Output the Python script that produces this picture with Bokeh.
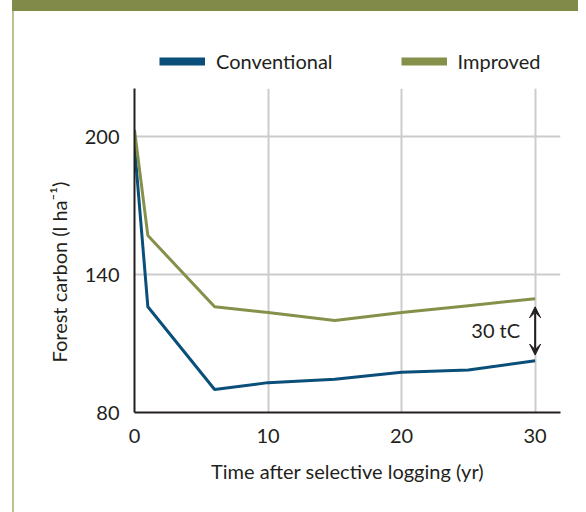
from bokeh.plotting import figure
from bokeh.models import (Div, Legend, LegendItem, Arrow, VeeHead, Label,
                          FixedTicker, ColumnDataSource)
from bokeh.layouts import column, row
from bokeh.embed import file_html
from bokeh.resources import INLINE

years = [0, 1, 6, 10, 15, 20, 25, 30]
conventional = [196, 126, 90, 93, 94.5, 97.5, 98.5, 102.5]
improved = [203, 157, 126, 123.5, 120, 123.5, 126.5, 129.5]
series_names = ["Conventional", "Improved"]
x_ticks = [0, 10, 20, 30]
y_ticks = [80, 140, 200]
gap_label = "30 tC"

BLUE = "#0a4f79"
GREEN = "#85904a"
TXT = "#231f20"
FONT = "Lato"

src = ColumnDataSource(dict(x=years, c=conventional, i=improved))

# ---- legend strip (own small figure above the chart; its frame aligns with the chart's) ----
lf = figure(width=564, height=77, x_range=(-2, -1), y_range=(0, 1),
            output_backend="svg", toolbar_location=None,
            x_axis_location=None, y_axis_location=None,
            min_border_left=120, min_border_right=18, min_border_top=0, min_border_bottom=0)
lf.outline_line_color = None
lf.grid.visible = False
lf.border_fill_color = "white"
l_c = lf.line("x", "c", source=src, line_color=BLUE, line_width=8)
l_i = lf.line("x", "i", source=src, line_color=GREEN, line_width=8)
legend = Legend(items=[LegendItem(label=series_names[0], renderers=[l_c]),
                       LegendItem(label=series_names[1], renderers=[l_i])],
                location=(25, 15), orientation="horizontal",
                glyph_width=46, glyph_height=20, label_height=20, label_standoff=11,
                spacing=68, padding=0, margin=0, border_line_color=None,
                background_fill_alpha=0, label_text_font=FONT,
                label_text_font_size="20px", label_text_color=TXT)
lf.add_layout(legend, "center")

# ---- main chart ----
p = figure(width=564, height=416, x_range=(0, 31.9), y_range=(80, 221),
           output_backend="svg", toolbar_location=None,
           min_border_left=120, min_border_right=18, min_border_top=0, min_border_bottom=92,
           title="Forest carbon (l ha\u207b\u00b9)", title_location="left")
p.outline_line_color = None
p.background_fill_color = "white"
p.border_fill_color = "white"
p.title.align = "left"
p.title.offset = 50
p.title.standoff = 22
p.title.vertical_align = "bottom"
p.title.text_font = FONT
p.title.text_font_size = "20px"
p.title.text_font_style = "normal"
p.title.text_color = TXT

p.line("x", "c", source=src, line_color=BLUE, line_width=3)
p.line("x", "i", source=src, line_color=GREEN, line_width=3)

for ax in (p.xaxis[0], p.yaxis[0]):
    ax.axis_line_color = TXT
    ax.axis_line_width = 2
    ax.major_tick_line_color = None
    ax.minor_tick_line_color = None
    ax.major_label_text_font = FONT
    ax.major_label_text_font_size = "20px"
    ax.major_label_text_color = TXT
    ax.axis_label_text_font = FONT
    ax.axis_label_text_font_size = "20px"
    ax.axis_label_text_font_style = "normal"
    ax.axis_label_text_color = TXT

p.xaxis.ticker = FixedTicker(ticks=x_ticks)
p.yaxis.ticker = FixedTicker(ticks=y_ticks)
p.xaxis.major_label_standoff = 10
p.yaxis.major_label_standoff = 9
p.xaxis.axis_label = "Time after selective logging (yr)"
p.xaxis.axis_label_standoff = 13

p.xgrid.ticker = FixedTicker(ticks=x_ticks[1:])
p.ygrid.ticker = FixedTicker(ticks=y_ticks[1:])
p.xgrid.grid_line_color = "#cccccc"
p.ygrid.grid_line_color = "#cccccc"
p.xgrid.grid_line_width = 2
p.ygrid.grid_line_width = 2

p.add_layout(Arrow(x_start=years[-1], y_start=conventional[-1] + 2.5,
                   x_end=years[-1], y_end=improved[-1] - 3.5,
                   line_color=TXT, line_width=2,
                   start=VeeHead(size=11, fill_color=TXT, line_color=TXT, line_width=1),
                   end=VeeHead(size=11, fill_color=TXT, line_color=TXT, line_width=1)))
p.add_layout(Label(x=years[-1], y=(conventional[-1] + improved[-1]) / 2, text=gap_label,
                   x_offset=-15, text_align="right", text_baseline="middle",
                   text_font=FONT, text_font_size="20px", text_color=TXT))

# ---- page frame: olive top bar and thin left rule ----
bar = Div(text="", width=566, height=19, margin=0, styles={"background-color": "#818a48"})
gap_top = Div(text="", width=20, height=19, margin=0)
spacer = Div(text="", width=20, height=501, margin=0)
border = Div(text="", width=2, height=501, margin=0, styles={"background-color": "#bcc08c"})
layout = column(row(gap_top, bar, spacing=0, margin=0),
                row(spacer, border, column(lf, p, spacing=0, margin=0), spacing=0, margin=0),
                spacing=0, margin=0,
                styles={"margin-left": "-8px", "margin-top": "-8px", "margin-bottom": "-8px"})

open("out.html", "w").write(file_html(layout, INLINE))
